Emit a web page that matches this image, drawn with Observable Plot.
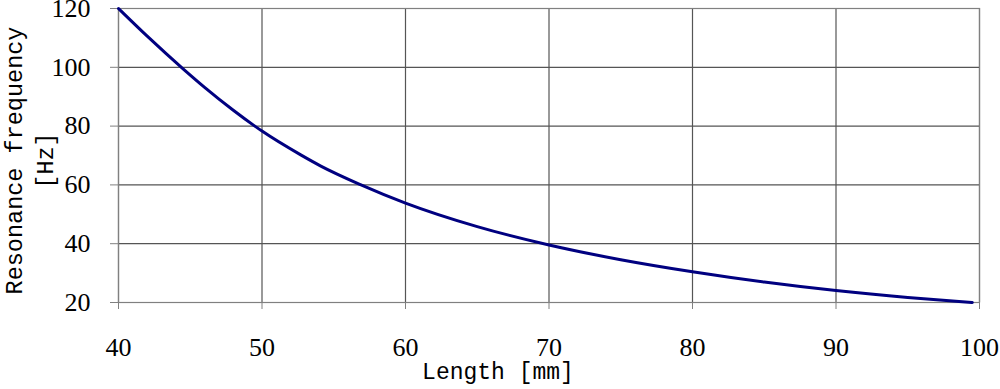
<!DOCTYPE html>
<html>
<head>
<meta charset="utf-8">
<script src="https://cdn.jsdelivr.net/npm/d3@7"></script>
<script src="https://cdn.jsdelivr.net/npm/@observablehq/plot@0.6"></script>
<style>
  html, body { margin: 0; padding: 0; background: #fff; }
  #chart svg { display: block; }
</style>
</head>
<body>
<div id="chart"></div>
<script>
const lengthMm = [40, 42, 44.5, 46, 48, 49.5, 50, 52.7, 54.1, 56.9, 60, 65, 70, 75, 80, 85, 90, 95, 99.5];
const freqHz   = [120, 110.6, 99.5, 93.2, 85.4, 80, 78.3, 70.2, 66.4, 60, 53.8, 45.8, 39.55, 34.55, 30.45, 26.95, 24.05, 21.7, 20];
const xTicks = [40, 50, 60, 70, 80, 90, 100];
const yTicks = [20, 40, 60, 80, 100, 120];
const xLabel = "Length [mm]";
const yLabel = "Resonance frequency\n[Hz]";

const data = lengthMm.map((L, i) => ({L, f: freqHz[i]}));

const chart = Plot.plot({
  width: 1000,
  height: 389,
  marginLeft: 118,
  marginRight: 21,
  marginTop: 8,
  marginBottom: 87,
  style: {fontFamily: "'Liberation Serif', serif", fontSize: "26px", color: "#000", background: "#fff"},
  x: {domain: [40, 100], ticks: xTicks, label: null},
  y: {domain: [20, 120], ticks: yTicks, label: null},
  marks: [
    Plot.gridX(xTicks, {stroke: "#555", strokeOpacity: 1, strokeWidth: 1.2}),
    Plot.gridY(yTicks, {stroke: "#555", strokeOpacity: 1, strokeWidth: 1.2}),
    Plot.frame({stroke: "#808080", strokeWidth: 1.2}),
    Plot.axisX({ticks: xTicks, tickSize: 7, tickPadding: 28, stroke: "#808080", fontSize: 26, tickFormat: d => String(d), label: null}),
    Plot.axisY({ticks: yTicks, tickSize: 8, tickPadding: 20, stroke: "#808080", fontSize: 26, tickFormat: d => String(d), label: null}),
    Plot.line(data, {x: "L", y: "f", stroke: "#000080", strokeWidth: 3, curve: "monotone-x"}),
    Plot.text([xLabel], {frameAnchor: "bottom", text: d => d, dx: -51, dy: 76, fontFamily: "'Liberation Mono', monospace", fontSize: 23, fill: "#000"}),
    Plot.text([yLabel], {frameAnchor: "left", text: d => d, textAnchor: "middle", lineAnchor: "middle", rotate: -90, dx: -91, dy: 5, lineHeight: 1.3, fontFamily: "'Liberation Mono', monospace", fontSize: 23.5, fill: "#000"})
  ]
});
document.getElementById("chart").appendChild(chart);
</script>
</body>
</html>
